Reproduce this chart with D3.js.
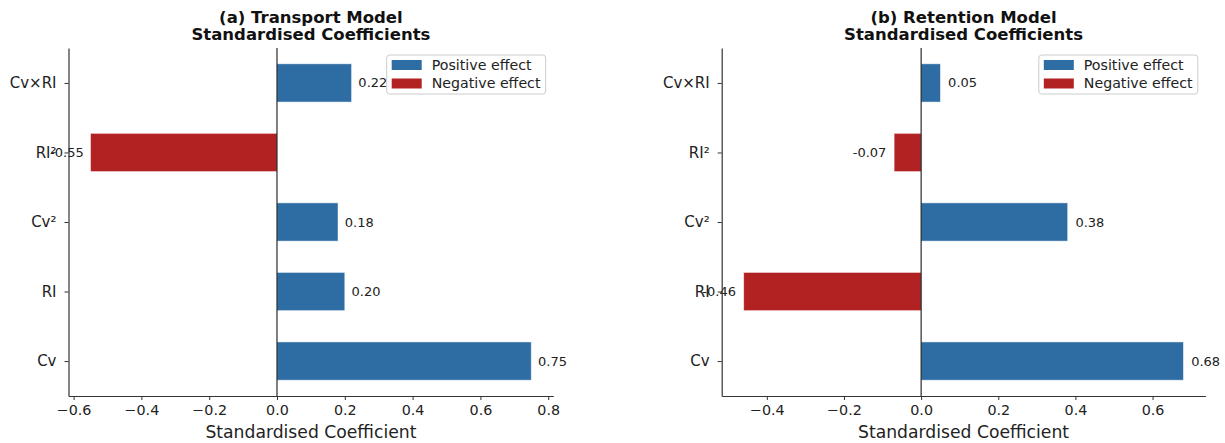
<!DOCTYPE html>
<html>
<head>
<meta charset="utf-8">
<script src="https://cdn.jsdelivr.net/npm/d3@7"></script>
<style>
    body { margin: 0; background: #fff; }
    svg { font-family: "DejaVu Sans", sans-serif; }
</style>
</head>
<body>
<div id="chart"></div>
<script>
// categories bottom -> top
const categories = ["Cv", "RI", "Cv²", "RI²", "Cv×RI"];
const transportCoef = [0.75, 0.20, 0.18, -0.55, 0.22];
const retentionCoef = [0.68, -0.46, 0.38, -0.07, 0.05];
const transportTicks = [-0.6, -0.4, -0.2, 0.0, 0.2, 0.4, 0.6, 0.8];
const retentionTicks = [-0.4, -0.2, 0.0, 0.2, 0.4, 0.6];
const legendLabels = ["Positive effect", "Negative effect"];

const colPos = "#2e6da4";
const colNeg = "#b22222";
const barH = 0.55;

const width = 1225, height = 443;
const plotTop = 48, plotBottom = 396;

const svg = d3.select("#chart").append("svg")
    .attr("width", width)
    .attr("height", height);

const panels = [
    {title: "(a) Transport Model", values: transportCoef, ticks: transportTicks, x0: 68.5, x1: 553.3},
    {title: "(b) Retention Model", values: retentionCoef, ticks: retentionTicks, x0: 721.7, x1: 1205.4}
];

panels.forEach(p => drawPanel(p));

function drawPanel(p) {
    let g = svg.append("g");

    // matplotlib style 5% margins
    let lo = Math.min(0, d3.min(p.values)), hi = Math.max(0, d3.max(p.values));
    let pad = (hi - lo) * 0.05;
    let x = d3.scaleLinear().domain([lo - pad, hi + pad]).range([p.x0, p.x1]);

    let n = categories.length;
    let ySpan = (n - 1) + barH;
    let y = d3.scaleLinear()
        .domain([-barH / 2 - 0.05 * ySpan, (n - 1) + barH / 2 + 0.05 * ySpan])
        .range([plotBottom, plotTop]);

    // bars
    g.selectAll("rect.bar")
        .data(p.values)
        .join("rect")
        .attr("class", "bar")
        .attr("x", d => x(Math.min(0, d)))
        .attr("width", d => Math.abs(x(d) - x(0)))
        .attr("y", (d, i) => y(i + barH / 2))
        .attr("height", y(0) - y(barH))
        .attr("fill", d => d >= 0 ? colPos : colNeg)
        .attr("stroke", "#fff")
        .attr("stroke-opacity", 0.6)
        .attr("stroke-width", 0.8);

    // zero line
    g.append("line")
        .attr("x1", x(0)).attr("x2", x(0))
        .attr("y1", plotTop).attr("y2", plotBottom)
        .attr("stroke", "#000")
        .attr("stroke-width", 1);

    // value labels
    g.selectAll("text.val")
        .data(p.values)
        .join("text")
        .attr("class", "val")
        .attr("x", d => d >= 0 ? x(d + 0.02) : x(d - 0.02))
        .attr("y", (d, i) => y(i))
        .attr("dy", "0.35em")
        .attr("text-anchor", d => d >= 0 ? "start" : "end")
        .attr("font-size", 13)
        .attr("fill", "#222")
        .text(d => d.toFixed(2));

    // x axis
    let xAxis = g.append("g")
        .attr("transform", "translate(0," + plotBottom + ")")
        .call(d3.axisBottom(x).tickValues(p.ticks).tickFormat(d3.format(".1f")).tickSize(4).tickPadding(5).tickSizeOuter(0));
    xAxis.select(".domain").attr("stroke", "#333").attr("stroke-width", 1.2);
    xAxis.selectAll(".tick line").attr("stroke", "#333").attr("stroke-width", 1);
    xAxis.selectAll("text").attr("font-size", 14.3).attr("fill", "#222").attr("font-family", "DejaVu Sans");

    // y axis
    let yAxis = g.append("g")
        .attr("transform", "translate(" + p.x0 + ",0)")
        .call(d3.axisLeft(y).tickValues(d3.range(n)).tickFormat(i => categories[i]).tickSize(4).tickPadding(8).tickSizeOuter(0));
    yAxis.select(".domain").attr("stroke", "#333").attr("stroke-width", 1.2);
    yAxis.selectAll(".tick line").attr("stroke", "#333").attr("stroke-width", 1);
    yAxis.selectAll("text").attr("font-size", 15).attr("fill", "#222").attr("font-family", "DejaVu Sans");

    // axis title
    g.append("text")
        .attr("x", (p.x0 + p.x1) / 2)
        .attr("y", 438)
        .attr("text-anchor", "middle")
        .attr("font-size", 17.2)
        .attr("fill", "#222")
        .text("Standardised Coefficient");

    // title
    let cx = (p.x0 + p.x1) / 2;
    let t = g.append("text")
        .attr("text-anchor", "middle")
        .attr("font-size", 16.5)
        .attr("font-weight", "bold")
        .attr("fill", "#111");
    t.append("tspan").attr("x", cx).attr("y", 22.5).text(p.title);
    t.append("tspan").attr("x", cx).attr("y", 40).text("Standardised Coefficients");

    // legend
    let lw = 159, lh = 39;
    let lg = g.append("g").attr("transform", "translate(" + (p.x1 - 7.6 - lw) + "," + (plotTop + 7) + ")");
    lg.append("rect")
        .attr("width", lw).attr("height", lh)
        .attr("rx", 3)
        .attr("fill", "#fff").attr("fill-opacity", 0.8)
        .attr("stroke", "#ccc").attr("stroke-width", 1);
    let items = lg.selectAll("g.item")
        .data(legendLabels)
        .join("g")
        .attr("class", "item")
        .attr("transform", (d, i) => "translate(5," + (5 + i * 18.5) + ")");
    items.append("rect")
        .attr("width", 30).attr("height", 10)
        .attr("fill", (d, i) => i === 0 ? colPos : colNeg);
    items.append("text")
        .attr("x", 40).attr("y", 5)
        .attr("dy", "0.35em")
        .attr("font-size", 14.2)
        .attr("fill", "#222")
        .text(d => d);
}
</script>
</body>
</html>
